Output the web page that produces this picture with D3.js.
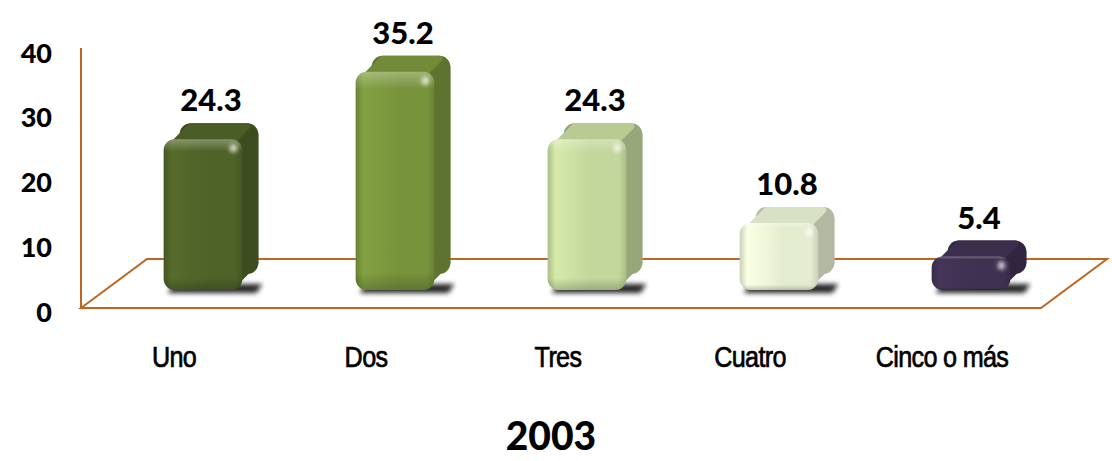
<!DOCTYPE html>
<html>
<head>
<meta charset="utf-8">
<script src="https://cdn.jsdelivr.net/npm/d3@7"></script>
<style>
  body { margin: 0; background: #fff; }
</style>
</head>
<body>
<div id="grafico"></div>
<script>
// datos del grafico
const categorias = ["Uno", "Dos", "Tres", "Cuatro", "Cinco o más"];
const valores = [24.3, 35.2, 24.3, 10.8, 5.4];
const ticksEje = [0, 10, 20, 30, 40];
const coloresBarra = ["#4f6228", "#77933c", "#c3d69b", "#e4ecd0", "#3f3151"];
const titulo = "2003";

const width = 1112;
const height = 461;

const svg = d3.select("#grafico")
  .append("svg")
  .attr("width", width)
  .attr("height", height);

const defs = svg.append("defs");

defs.append("filter").attr("id", "sombra")
  .attr("x", "-20%").attr("y", "-100%").attr("width", "140%").attr("height", "300%")
  .append("feGaussianBlur").attr("stdDeviation", 2.5);

defs.append("filter").attr("id", "brillo")
  .attr("x", "-100%").attr("y", "-100%").attr("width", "300%").attr("height", "300%")
  .append("feGaussianBlur").attr("stdDeviation", 2);

// escalas
const x = d3.scaleBand()
  .domain(categorias)
  .range([107, 1067])
  .paddingInner(0.59)
  .paddingOuter(0.295);

const yBarra = d3.scaleLinear().domain([0, 40]).range([290, 42]);
const yEje = d3.scaleLinear().domain([0, 40]).range([312, 53]);

// piso en perspectiva
const piso = { x0: 81, x1: 1041, yFrente: 308, yFondo: 259, dx: 66 };
const naranja = "#c0651e";

svg.append("path")
  .attr("d", `M${piso.x0},${piso.yFrente} L${piso.x0 + piso.dx},${piso.yFondo} L${piso.x1 + piso.dx},${piso.yFondo} L${piso.x1},${piso.yFrente} Z`)
  .attr("fill", "none")
  .attr("stroke", naranja)
  .attr("stroke-width", 2);

// eje vertical
svg.append("line")
  .attr("x1", piso.x0).attr("x2", piso.x0)
  .attr("y1", piso.yFrente).attr("y2", 48)
  .attr("stroke", naranja)
  .attr("stroke-width", 2);

svg.append("g")
  .selectAll("text")
  .data(ticksEje)
  .join("text")
  .attr("x", 52)
  .attr("y", d => yEje(d))
  .attr("dy", "0.36em")
  .attr("text-anchor", "end")
  .attr("font-family", "Lato, 'Open Sans', sans-serif")
  .attr("font-weight", 900)
  .attr("font-size", 27)
  .attr("fill", "#000")
  .text(d => d);

// barras 3D redondeadas
const bw = x.bandwidth();
const prof = { dx: 16, dy: -16 };
const r = 11;

categorias.forEach((c, i) => {
  const base = d3.color(coloresBarra[i]);
  const lado = base.darker(0.7).formatHex();
  const arriba = base.darker(0.15).formatHex();
  const claro = base.brighter(0.25).formatHex();
  const oscuro = base.darker(0.35).formatHex();

  const gid = "grad" + i;
  const g = defs.append("linearGradient").attr("id", gid)
    .attr("x1", 0).attr("x2", 1).attr("y1", 0).attr("y2", 0);
  g.append("stop").attr("offset", "0%").attr("stop-color", oscuro);
  g.append("stop").attr("offset", "10%").attr("stop-color", claro);
  g.append("stop").attr("offset", "55%").attr("stop-color", base.formatHex());
  g.append("stop").attr("offset", "90%").attr("stop-color", base.formatHex());
  g.append("stop").attr("offset", "100%").attr("stop-color", oscuro);

  const gv = "gradv" + i;
  const g2 = defs.append("linearGradient").attr("id", gv)
    .attr("x1", 0).attr("x2", 0).attr("y1", 0).attr("y2", 1);
  g2.append("stop").attr("offset", "0%").attr("stop-color", "#fff").attr("stop-opacity", 0.3);
  g2.append("stop").attr("offset", "8%").attr("stop-color", "#fff").attr("stop-opacity", 0);
  g2.append("stop").attr("offset", "92%").attr("stop-color", "#000").attr("stop-opacity", 0);
  g2.append("stop").attr("offset", "100%").attr("stop-color", "#000").attr("stop-opacity", 0.2);

  const x0 = x(c);
  const yT = yBarra(valores[i]);
  const yB = yBarra(0);
  const h = yB - yT;
  const barra = svg.append("g");

  // sombra en el piso
  barra.append("path")
    .attr("d", `M${x0 + 4},${yB + 3} L${x0 + bw + prof.dx - 2},${yB + 3} L${x0 + bw + prof.dx + 4},${yB - 6} L${x0 + 10},${yB - 6} Z`)
    .attr("fill", "#000")
    .attr("opacity", 0.85)
    .attr("filter", "url(#sombra)");

  // cuerpo trasero
  barra.append("rect")
    .attr("x", x0 + prof.dx).attr("y", yT + prof.dy)
    .attr("width", bw).attr("height", h)
    .attr("rx", r)
    .attr("fill", lado);

  // cara superior
  barra.append("path")
    .attr("d", `M${x0 + r},${yT + 3} L${x0 + prof.dx + r},${yT + prof.dy + 3} L${x0 + bw + prof.dx - r},${yT + prof.dy + 3} L${x0 + bw - r},${yT + 3} Z`)
    .attr("fill", arriba)
    .attr("stroke", arriba)
    .attr("stroke-width", 6)
    .attr("stroke-linejoin", "round");

  // cara lateral
  barra.append("path")
    .attr("d", `M${x0 + bw - 3},${yT + r} L${x0 + bw + prof.dx - 3},${yT + prof.dy + r} L${x0 + bw + prof.dx - 3},${yB + prof.dy - r} L${x0 + bw - 3},${yB - r} Z`)
    .attr("fill", lado)
    .attr("stroke", lado)
    .attr("stroke-width", 6)
    .attr("stroke-linejoin", "round");

  // cara frontal
  barra.append("rect")
    .attr("x", x0).attr("y", yT)
    .attr("width", bw).attr("height", h)
    .attr("rx", r)
    .attr("fill", `url(#${gid})`);

  barra.append("rect")
    .attr("x", x0).attr("y", yT)
    .attr("width", bw).attr("height", h)
    .attr("rx", r)
    .attr("fill", `url(#${gv})`);

  // brillo
  barra.append("ellipse")
    .attr("cx", x0 + bw - 9).attr("cy", yT + 9)
    .attr("rx", 3.5).attr("ry", 4)
    .attr("fill", "#fff")
    .attr("opacity", 0.8)
    .attr("filter", "url(#brillo)");

  // etiqueta de valor
  svg.append("text")
    .attr("x", x0 + (bw + prof.dx) / 2)
    .attr("y", yT + prof.dy - 12)
    .attr("text-anchor", "middle")
    .attr("font-family", "Lato, 'Open Sans', sans-serif")
    .attr("font-weight", 900)
    .attr("font-size", 31)
    .attr("fill", "#000")
    .text(valores[i].toFixed(1));
});

// etiquetas de categoria
svg.append("g")
  .selectAll("text")
  .data(categorias)
  .join("text")
  .attr("transform", d => `translate(${x(d) + bw / 2 - 29},367) scale(0.84,1)`)
  .attr("text-anchor", "middle")
  .attr("font-family", "'Liberation Sans', Arial, sans-serif")
  .attr("font-size", 30)
  .attr("letter-spacing", -0.8)
  .attr("fill", "#000")
  .attr("stroke", "#000")
  .attr("stroke-width", 0.7)
  .text(d => d);

// titulo
svg.append("text")
  .attr("x", 551)
  .attr("y", 450)
  .attr("text-anchor", "middle")
  .attr("font-family", "Lato, 'Open Sans', sans-serif")
  .attr("font-weight", 900)
  .attr("font-size", 39)
  .attr("fill", "#000")
  .text(titulo);
</script>
</body>
</html>
